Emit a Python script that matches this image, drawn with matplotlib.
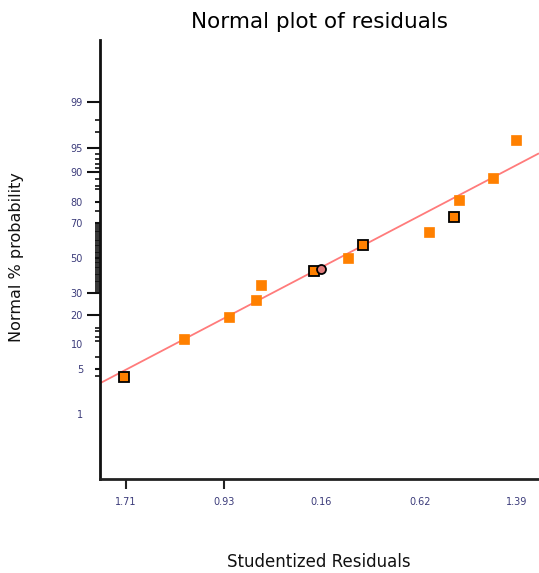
import numpy as np
import matplotlib
matplotlib.use("Agg")
import matplotlib.pyplot as plt
from statistics import NormalDist

# ---------------- data ----------------
resid_x = [-1.72, -1.25, -0.89, -0.68, -0.64, -0.22, 0.05, 0.17, 0.69, 0.89, 0.93, 1.20, 1.38]
prob_pct = [3.85, 11.54, 19.23, 26.92, 34.62, 42.31, 50.0, 57.69, 65.38, 73.08, 80.77, 88.46, 96.15]
outlined = [True, False, False, False, False, True, False, True, False, True, False, False, False]

center_x = [-0.16]
center_pct = [43.7]

fit_slope = 0.985
fit_intercept = 0.023

x_tick_vals = [-1.71, -0.93, -0.16, 0.62, 1.39]
x_tick_labels = ["1.71", "0.93", "0.16", "0.62", "1.39"]

y_tick_vals = [1, 5, 10, 20, 30, 50, 70, 80, 90, 95, 99]
y_tick_labels = ["1", "5", "10", "20", "30", "50", "70", "80", "90", "95", "99"]
y_long_ticks = [20, 30, 90, 95, 99]
y_hidden_ticks = [1, 10]
y_minor_vals = [4, 7, 11, 12, 14, 15] + list(range(31, 50)) + list(range(51, 70)) + \
               [76, 85, 86, 88, 91, 92, 93, 94, 97, 98]

title = "Normal plot of residuals"
xlabel = "Studentized Residuals"
ylabel = "Normal % probability"

# ---------------- scale ----------------
_nd = NormalDist()
_ppf = np.vectorize(lambda p: _nd.inv_cdf(min(max(p / 100.0, 1e-12), 1 - 1e-12)))
_cdf = np.vectorize(lambda z: 100.0 * _nd.cdf(z))


def fwd(p):
    return _ppf(np.asarray(p, dtype=float))


def inv(z):
    return _cdf(np.asarray(z, dtype=float))


W, H = 539, 573
DPI = 100
PX = 72.0 / DPI

plt.rcParams['font.family'] = ['DejaVu Sans']
fig = plt.figure(figsize=(W / DPI, H / DPI), dpi=DPI)
fig.patch.set_facecolor('white')

left_px, right_px, top_px, bottom_px = 100, 539, 40, 479
ax = fig.add_axes([left_px / W, 1 - bottom_px / H, (right_px - left_px) / W, (bottom_px - top_px) / H])
ax.set_yscale('function', functions=(fwd, inv))

xlim = (-1.914, 1.565)
ax.set_xlim(*xlim)
ax.set_ylim(inv(-3.289), inv(3.253))

# fitted line
xs = np.array(xlim)
zs = fit_slope * xs + fit_intercept
ax.plot(xs, inv(zs), color='#ff7b7b', lw=1.3, zorder=2, solid_capstyle='butt')

# points
for x, p, o in zip(resid_x, prob_pct, outlined):
    ax.plot([x], [p], marker='s', ms=10 * PX * 0.95, mfc='#ff8000',
            mec='black' if o else '#ff8000', mew=1.3 if o else 0.5, ls='none', zorder=3)
ax.plot(center_x, center_pct, marker='o', ms=9 * PX, mfc='#e07b7b', mec='black', mew=1.3,
        ls='none', zorder=4)

# spines
for s in ['top', 'right']:
    ax.spines[s].set_visible(False)
ax.spines['left'].set_linewidth(2)
ax.spines['bottom'].set_linewidth(2)
ax.spines['left'].set_color('#111111')
ax.spines['bottom'].set_color('#222222')

tick_color = '#3b3b7a'
# x ticks
ax.set_xticks(x_tick_vals)
ax.set_xticklabels(x_tick_labels)
ax.tick_params(axis='x', direction='out', length=10 * PX, width=1.5, pad=8 * PX,
               labelsize=7, labelcolor=tick_color, color='#222222')
for i, t in enumerate(ax.xaxis.get_major_ticks()):
    if i >= 2:
        t.tick1line.set_visible(False)

# y ticks
ax.set_yticks(y_tick_vals)
ax.set_yticklabels(y_tick_labels)
ax.set_yticks(y_minor_vals, minor=True)
ax.yaxis.set_minor_formatter(matplotlib.ticker.NullFormatter())
ax.tick_params(axis='y', which='major', direction='out', length=5 * PX, width=1.5,
               pad=12 * PX, labelsize=7, labelcolor=tick_color, color='#111111')
ax.tick_params(axis='y', which='minor', direction='out', length=5 * PX, width=1.2,
               color='#111111')
for v, t in zip(y_tick_vals, ax.yaxis.get_major_ticks()):
    if v in y_long_ticks:
        t.tick1line.set_markersize(13 * PX)
    if v in y_hidden_ticks:
        t.tick1line.set_visible(False)

# texts
fig.text((left_px + right_px) / 2 / W, 1 - 28 / H, title, ha='center', va='baseline',
         fontsize=15.5, color='black')
fig.text(319 / W, 1 - 567 / H, xlabel, ha='center', va='baseline', fontsize=12, color='#111111')
fig.text(17 / W, 1 - 257 / H, ylabel, ha='center', va='center', rotation=90,
         fontsize=11.5, color='#111111')

fig.savefig('out.png', dpi=DPI, facecolor='white')
